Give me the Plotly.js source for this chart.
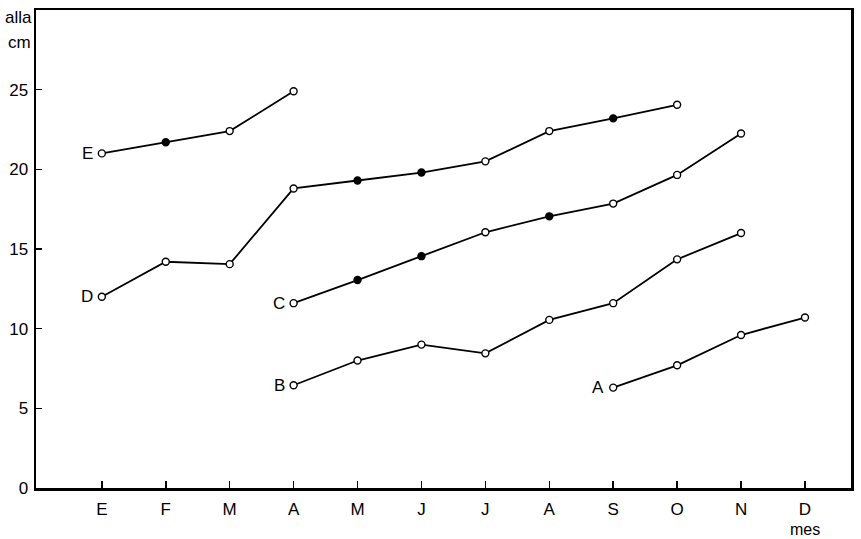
<!DOCTYPE html>
<html>
<head>
<meta charset="utf-8">
<script src="https://cdn.plot.ly/plotly-3.0.1.min.js"></script>
<style>html,body{margin:0;padding:0;background:#fff;}#chart{width:861px;height:539px;}</style>
</head>
<body>
<div id="chart"></div>
<script>
// Month ticks (Spanish initials)
const monthTicks = ["E","F","M","A","M","J","J","A","S","O","N","D"];
const monthIdx = [0,1,2,3,4,5,6,7,8,9,10,11];

// Series: month index, height (cm), marker filled (1) or open (0)
const seriesNames = ["E","D","C","B","A"];
const xE = [0,1,2,3];
const yE = [21.0,21.7,22.4,24.9];
const fE = [0,1,0,0];

const xD = [0,1,2,3,4,5,6,7,8,9];
const yD = [12.0,14.2,14.05,18.8,19.3,19.8,20.5,22.4,23.2,24.05];
const fD = [0,0,0,0,1,1,0,0,1,0];

const xC = [3,4,5,6,7,8,9,10];
const yC = [11.6,13.05,14.55,16.05,17.05,17.85,19.65,22.25];
const fC = [0,1,1,0,1,0,0,0];

const xB = [3,4,5,6,7,8,9,10];
const yB = [6.45,8.0,9.0,8.45,10.55,11.6,14.35,16.0];
const fB = [0,0,0,0,0,0,0,0];

const xA = [8,9,10,11];
const yA = [6.3,7.7,9.6,10.7];
const fA = [0,0,0,0];

const yTicks = [0,5,10,15,20,25];

const sets = [[xE,yE,fE],[xD,yD,fD],[xC,yC,fC],[xB,yB,fB],[xA,yA,fA]];
const traces = sets.map((s,i)=>({
  x:s[0], y:s[1], type:'scatter', mode:'lines+markers', name:seriesNames[i],
  line:{color:'#000', width:1.8},
  marker:{symbol:'circle', size:7, color:s[2].map(f=>f?'#000':'#fff'), line:{color:'#000', width:1.4}},
  cliponaxis:false, hoverinfo:'skip'
}));

const font = {family:'"Liberation Sans", Arial, sans-serif', color:'#000'};
const annotations = sets.map((s,i)=>({
  x:s[0][0], y:s[1][0], xref:'x', yref:'y', text:seriesNames[i], showarrow:false,
  xanchor:'right', yanchor:'middle', xshift:-7, font:Object.assign({size:17},font)
}));
annotations.push({x:0, y:1, xref:'paper', yref:'paper', xanchor:'right', yanchor:'middle', xshift:-2, yshift:-7,
  text:'alla', showarrow:false, font:Object.assign({size:17},font)});
annotations.push({x:0, y:1, xref:'paper', yref:'paper', xanchor:'right', yanchor:'middle', xshift:-3, yshift:-32,
  text:'cm', showarrow:false, font:Object.assign({size:17},font)});
annotations.push({x:11, y:0, xref:'paper', yref:'paper', xanchor:'center', yanchor:'top', yshift:-31,
  text:'mes', showarrow:false, font:Object.assign({size:16},font)});
annotations[annotations.length-1].xref='x';

const layout = {
  width:861, height:539,
  margin:{l:36, r:10, t:10, b:51},
  paper_bgcolor:'#fff', plot_bgcolor:'#fff',
  showlegend:false,
  font:Object.assign({size:17},font),
  xaxis:{range:[-1.03,11.72], tickvals:monthIdx, ticktext:monthTicks, ticks:'inside', ticklen:7, tickwidth:1.5,
    tickcolor:'#000', showline:true, linecolor:'#000', linewidth:2.5, mirror:true, showgrid:false, zeroline:false,
    ticklabelstandoff:4, tickfont:Object.assign({size:17},font)},
  yaxis:{range:[0,30], tickvals:yTicks, ticks:'inside', ticklen:6, tickwidth:1.5, tickcolor:'#000',
    showline:true, linecolor:'#000', linewidth:2.5, mirror:true, showgrid:false, zeroline:false,
    ticklabelstandoff:2, tickfont:Object.assign({size:17},font)},
  annotations:annotations
};
Plotly.newPlot('chart', traces, layout, {staticPlot:true, displayModeBar:false});
</script>
</body>
</html>
